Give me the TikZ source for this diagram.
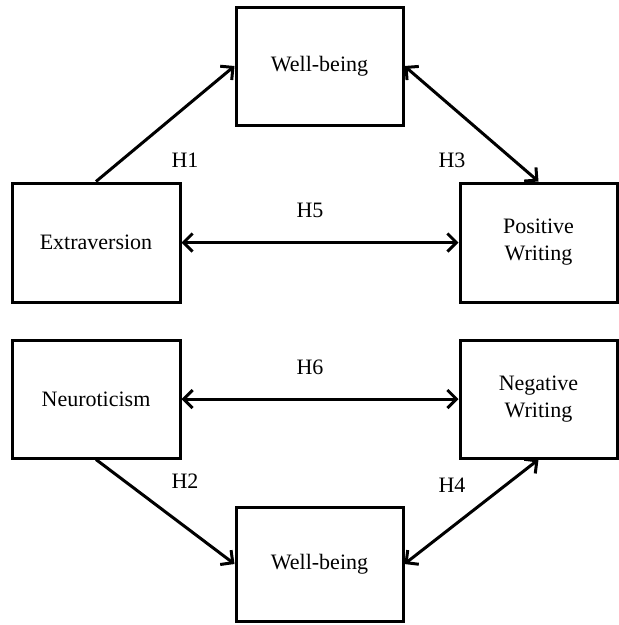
\documentclass[tikz,border=0pt]{standalone}
\usepackage{fontspec}
\setmainfont{Liberation Serif}
\usetikzlibrary{arrows.meta}
\begin{document}
\begin{tikzpicture}[x=1pt,y=-1pt,
  varbox/.style={draw,line width=3pt,minimum width=#1,inner sep=0pt,
    align=center,font={\fontsize{22}{27}\selectfont}},
  varbox/.default=168pt,
  barb/.style={Straight Barb[length=9pt,width=18pt,line width=3pt]},
  link/.style={line width=3pt,{Straight Barb[length=9pt,width=18pt,line width=3pt]}-{Straight Barb[length=9pt,width=18pt,line width=3pt]}},
  oneway/.style={line width=3pt,-{Straight Barb[length=9pt,width=18pt,line width=3pt]}},
  hlabel/.style={font={\fontsize{22}{26}\selectfont}}]
\useasboundingbox (0,0) rectangle (619,625);
% variables
\node[varbox=168pt,minimum height=119pt] (ext) at (96,242.5) {Extraversion};
\node[varbox=167pt,minimum height=118pt] (wbt) at (319.5,66) {Well-being};
\node[varbox=157pt,minimum height=119pt] (pos) at (538.5,242.5) {Positive\\Writing};
\node[varbox=168pt,minimum height=118pt] (neu) at (96,399) {Neuroticism};
\node[varbox=157pt,minimum height=118pt] (neg) at (538.5,399) {Negative\\Writing};
\node[varbox=167pt,minimum height=114pt] (wbb) at (319.5,564) {Well-being};
% hypothesised paths
\draw[oneway] (ext.north) -- (wbt.west);
\draw[link] (wbt.east) -- (pos.north);
\draw[link] (ext.east) -- (pos.west);
\draw[link] (neu.east) -- (neg.west);
\draw[oneway] (neu.south) -- (wbb.west);
\draw[link] (wbb.east) -- (neg.south);
% hypothesis labels
\node[hlabel] (h1) at (185,160) {H1};
\node[hlabel] (h3) at (452,160) {H3};
\node[hlabel] (h5) at (310,210) {H5};
\node[hlabel] (h6) at (310,367) {H6};
\node[hlabel] (h2) at (185,481) {H2};
\node[hlabel] (h4) at (452,485) {H4};
\end{tikzpicture}
\end{document}
